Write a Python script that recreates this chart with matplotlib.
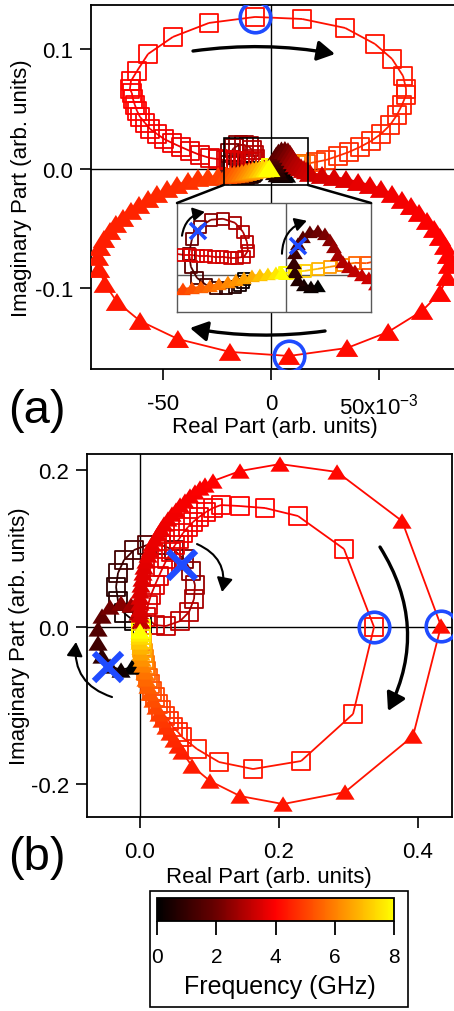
import numpy as np
import matplotlib
matplotlib.use("Agg")
import matplotlib.pyplot as plt
from matplotlib.collections import LineCollection
from matplotlib.colors import LinearSegmentedColormap, Normalize
from matplotlib.cm import ScalarMappable
from matplotlib.patches import Rectangle, ConnectionPatch
from matplotlib.path import Path

plt.rcParams['font.family'] = ['Liberation Sans', 'DejaVu Sans']
plt.rcParams['mathtext.fontset'] = 'custom'
plt.rcParams['mathtext.rm'] = 'Liberation Sans'
plt.rcParams['axes.unicode_minus'] = False

# ---------------- panel (a): squares ----------------
freq_a_sq = [0.0, 0.2, 0.4, 0.6, 0.8, 1.0, 1.2, 1.4, 1.6, 1.8, 2.0, 2.2, 2.4, 2.6, 2.8, 2.95, 3.05, 3.15, 3.22,
             3.28, 3.32, 3.36, 3.40, 3.44, 3.48, 3.52, 3.56,
             3.60, 3.64, 3.68, 3.72, 3.76, 3.80, 3.83, 3.86, 3.89, 3.92, 3.95, 3.97, 3.99, 4.01, 4.03,
             4.05, 4.07, 4.09, 4.12, 4.15, 4.18, 4.21, 4.24, 4.27, 4.30, 4.33, 4.36, 4.39,
             4.42, 4.45, 4.48, 4.51, 4.54, 4.57, 4.60, 4.64, 4.70, 4.80, 4.95, 5.20,
             5.6, 6.0, 6.4, 6.8, 7.2, 7.5, 7.8, 8.0]
re_a_sq = [-0.00844, -0.00864, -0.00925, -0.01025, -0.01206, -0.01407, -0.01608, -0.01789, -0.01910, -0.01950,
           -0.01889, -0.01729, -0.01508, -0.01266, -0.01025, -0.00864, -0.00784, -0.00764, -0.00844,
           -0.00985, -0.01126, -0.01286, -0.01447, -0.01608, -0.01769, -0.01930, -0.02070,
           -0.0245, -0.0282, -0.0329, -0.0375, -0.0417, -0.0458, -0.0495, -0.0528, -0.0560, -0.0583, -0.0606,
           -0.0620, -0.0630, -0.0639, -0.0644,
           -0.0653, -0.0648, -0.0620, -0.0569, -0.0454, -0.0287, -0.0074, 0.0144, 0.0343, 0.0481, 0.0560, 0.0611, 0.0625,
           0.0625, 0.0606, 0.0583, 0.0551, 0.0509, 0.0463, 0.0412, 0.0361, 0.0310, 0.0255, 0.0208, 0.0162,
           0.01387, 0.01146, 0.00884, 0.00643, 0.00382, 0.00181, 0.00020, -0.00020]
im_a_sq = [-0.00144, -0.00253, -0.00361, -0.00433, -0.00469, -0.00469, -0.00361, -0.00108, 0.00289, 0.00758,
           0.01300, 0.01733, 0.01986, 0.02022, 0.01877, 0.01552, 0.01191, 0.00866, 0.00650,
           0.00614, 0.00614, 0.00650, 0.00650, 0.00686, 0.00686, 0.00722, 0.00722,
           0.0082, 0.0092, 0.0117, 0.0151, 0.0184, 0.0218, 0.0251, 0.0293, 0.0335, 0.0385, 0.0435,
           0.0485, 0.0536, 0.0586, 0.0636,
           0.0669, 0.0736, 0.0820, 0.0962, 0.1105, 0.1222, 0.1272, 0.1255, 0.1180, 0.1046, 0.0921, 0.0778, 0.0669,
           0.0619, 0.0536, 0.0452, 0.0368, 0.0293, 0.0234, 0.0184, 0.0142, 0.0109, 0.0075, 0.0059, 0.0042,
           0.00433, 0.00361, 0.00289, 0.00217, 0.00144, 0.00108, 0.00072, 0.00070]

# ---------------- panel (a): triangles ----------------
freq_a_tri = [0.0, 0.2, 0.4, 0.6, 0.8, 1.0, 1.2, 1.4, 1.6, 1.8, 2.0, 2.2, 2.4, 2.6, 2.8, 2.95, 3.05, 3.15, 3.25, 3.32,
              3.38, 3.45, 3.52, 3.59, 3.66, 3.72, 3.77, 3.82, 3.86, 3.89, 3.92, 3.95, 3.97, 3.99, 4.01, 4.03,
              4.05, 4.07, 4.09, 4.12, 4.15, 4.18, 4.21, 4.24, 4.27, 4.30, 4.33, 4.36, 4.39,
              4.42, 4.44, 4.46, 4.48, 4.50, 4.52, 4.54, 4.56, 4.58, 4.61, 4.64, 4.68, 4.73, 4.80, 4.88, 4.98,
              5.1, 5.3, 5.5, 5.7, 5.9, 6.1, 6.3, 6.5, 6.7, 7.0, 7.3, 7.6, 8.0]
re_a_tri = [0.00643, 0.00503, 0.00362, 0.00241, 0.00181, 0.00161, 0.00181, 0.00241, 0.00342, 0.00482,
            0.00643, 0.00784, 0.00884, 0.00965, 0.01045, 0.01146, 0.01266, 0.01387, 0.01528, 0.01668,
            0.0181, 0.0236, 0.0292, 0.0347, 0.0403, 0.0458, 0.0509, 0.0560, 0.0606, 0.0648, 0.0685, 0.0722,
            0.0755, 0.0782, 0.0806, 0.0819,
            0.0824, 0.0815, 0.0782, 0.0699, 0.0542, 0.0352, 0.0083, -0.0190, -0.0431, -0.0606, -0.0713, -0.0769, -0.0796,
            -0.0801, -0.0792, -0.0773, -0.0745, -0.0718, -0.0685, -0.0648, -0.0611, -0.0569, -0.0528, -0.0481,
            -0.0435, -0.0384, -0.0338, -0.0292, -0.0245,
            -0.02070, -0.01889, -0.01709, -0.01528, -0.01347, -0.01166, -0.01005, -0.00844, -0.00683, -0.00523,
            -0.00362, -0.00201, -0.00080]
im_a_tri = [-0.00397, -0.00433, -0.00361, -0.00181, 0.00108, 0.00433, 0.00794, 0.01119, 0.01372, 0.01552,
            0.01588, 0.01480, 0.01264, 0.01011, 0.00722, 0.00469, 0.00289, 0.00144, 0.0, -0.00108,
            -0.0033, -0.0050, -0.0067, -0.0084, -0.0109, -0.0134, -0.0167, -0.0209, -0.0259, -0.0310, -0.0368,
            -0.0435, -0.0502, -0.0569, -0.0644, -0.0720,
            -0.0803, -0.0904, -0.1038, -0.1188, -0.1364, -0.1498, -0.1565, -0.1531, -0.1423, -0.1272, -0.1113,
            -0.0962, -0.0837,
            -0.0736, -0.0653, -0.0586, -0.0519, -0.0460, -0.0410, -0.0351, -0.0301, -0.0251, -0.0209, -0.0167,
            -0.0134, -0.0100, -0.0075, -0.0067, -0.0059,
            -0.00505, -0.00469, -0.00433, -0.00397, -0.00325, -0.00253, -0.00181, -0.00108, -0.00036, 0.0,
            0.00036, 0.00072, 0.00072]

# ---------------- panel (b): squares ----------------
freq_b_sq = [0.0, 0.2, 0.4, 0.6, 0.8, 1.0, 1.2, 1.4, 1.6, 1.8, 2.0, 2.2, 2.4, 2.6, 2.8, 3.0, 3.1, 3.2, 3.3, 3.4,
             3.50, 3.53, 3.56, 3.59, 3.62, 3.65, 3.68, 3.71, 3.74, 3.77, 3.80, 3.83, 3.86, 3.89, 3.92, 3.95,
             4.0, 4.04, 4.08, 4.13, 4.2, 4.26, 4.3, 4.34, 4.38, 4.42, 4.46,
             4.5, 4.58, 4.66, 4.75, 4.85, 4.95, 5.06, 5.18, 5.3, 5.45, 5.6, 5.8, 6.0, 6.25, 6.5, 6.8, 7.1, 7.4,
             7.7, 8.0]
re_b_sq = [0.0029, -0.0086, -0.0230, -0.0317, -0.0345, -0.0317, -0.0230, -0.0086, 0.0101, 0.0302,
           0.0489, 0.0633, 0.0734, 0.0791, 0.0777, 0.0705, 0.0576, 0.0374, 0.0216, 0.0086,
           0.0115, 0.0158, 0.0216, 0.0273, 0.0331, 0.0388, 0.0446, 0.0504, 0.0561, 0.0619, 0.0691, 0.0763,
           0.0849, 0.0950, 0.1050, 0.1165,
           0.1439, 0.1799, 0.2273, 0.2935, 0.3367, 0.3065, 0.2317, 0.1626, 0.1137, 0.0820, 0.0604,
           0.0547, 0.0475, 0.0417, 0.0360, 0.0302, 0.0259, 0.0216, 0.0173, 0.0144, 0.0115, 0.0086, 0.0072,
           0.0058, 0.0043, 0.0029, 0.0029, 0.0014, 0.0014, 0.0014, 0.0014]
im_b_sq = [0.0025, 0.0076, 0.0178, 0.0331, 0.0510, 0.0688, 0.0854, 0.0981, 0.1045, 0.1045,
           0.0981, 0.0866, 0.0713, 0.0535, 0.0357, 0.0191, 0.0076, 0.0013, 0.0025, 0.0127,
           0.0280, 0.0408, 0.0535, 0.0650, 0.0764, 0.0866, 0.0955, 0.1045, 0.1121, 0.1197, 0.1274, 0.1338,
           0.1401, 0.1465, 0.1516, 0.1554,
           0.1541, 0.1516, 0.1414, 0.0994, 0.0, -0.1108, -0.1707, -0.1809, -0.1720, -0.1554, -0.1401,
           -0.1338, -0.1274, -0.1197, -0.1134, -0.1057, -0.0981, -0.0892, -0.0815, -0.0726, -0.0650, -0.0561,
           -0.0484, -0.0408, -0.0331, -0.0268, -0.0204, -0.0153, -0.0102, -0.0064, -0.0025]

# ---------------- panel (b): triangles ----------------
freq_b_tri = [0.0, 0.3, 0.6, 0.9, 1.2, 1.5, 1.8, 2.1, 2.4, 2.7, 3.0, 3.2,
              3.46, 3.48, 3.50, 3.52, 3.54, 3.56, 3.58, 3.60, 3.62, 3.64, 3.66, 3.68, 3.70, 3.72, 3.74, 3.76,
              3.78, 3.80, 3.82, 3.84, 3.86, 3.88, 3.90, 3.92, 3.94, 3.96,
              4.0, 4.03, 4.06, 4.1, 4.15, 4.21, 4.27, 4.31, 4.34, 4.37, 4.4, 4.43, 4.46,
              4.52, 4.6, 4.68, 4.77, 4.86, 4.96, 5.07, 5.19, 5.32, 5.46, 5.62, 5.8, 6.0, 6.25, 6.5, 6.8, 7.1,
              7.4, 7.7, 8.0]
re_b_tri = [-0.0115, -0.0273, -0.0432, -0.0547, -0.0604, -0.0604, -0.0547, -0.0432, -0.0273, -0.0129, -0.0029, 0.0014,
            0.0, 0.0, 0.0, 0.0, 0.0, 0.0014, 0.0029, 0.0043, 0.0058, 0.0086, 0.0115, 0.0144, 0.0173, 0.0216,
            0.0259, 0.0302, 0.0345, 0.0403, 0.0460, 0.0518, 0.0576, 0.0647, 0.0719, 0.0791, 0.0863, 0.0935,
            0.1050, 0.1439, 0.2014, 0.2835, 0.3770, 0.4331, 0.3928, 0.2950, 0.2058, 0.1439, 0.1007, 0.0748, 0.0604,
            0.0547, 0.0489, 0.0432, 0.0374, 0.0317, 0.0273, 0.0230, 0.0187, 0.0144, 0.0115, 0.0086, 0.0072,
            0.0043, 0.0029, 0.0014, 0.0014, 0.0, 0.0, 0.0, 0.0]
im_b_tri = [-0.0510, -0.0548, -0.0497, -0.0369, -0.0204, -0.0025, 0.0140, 0.0255, 0.0306, 0.0280, 0.0178, 0.0076,
            0.0153, 0.0229, 0.0306, 0.0382, 0.0459, 0.0535, 0.0611, 0.0688, 0.0764, 0.0841, 0.0917, 0.0981,
            0.1057, 0.1121, 0.1185, 0.1248, 0.1312, 0.1376, 0.1439, 0.1490, 0.1554, 0.1605, 0.1669, 0.1720,
            0.1771, 0.1809,
            0.1860, 0.1987, 0.2076, 0.1975, 0.1350, 0.0013, -0.1389, -0.2102, -0.2255, -0.2153, -0.1962, -0.1771, -0.1592,
            -0.1516, -0.1439, -0.1350, -0.1274, -0.1185, -0.1108, -0.1019, -0.0930, -0.0841, -0.0752, -0.0662,
            -0.0573, -0.0484, -0.0408, -0.0331, -0.0255, -0.0191, -0.0127, -0.0089, -0.0051]

# marks of special modes (blue crosses) and zoom window of the inset
cross_a = ([-0.0177, 0.0024], [0.0159, 0.0105])
cross_b = ([0.0604, -0.0460], [0.0790, -0.0510])
zoom_x = (-0.0219, 0.0171)
zoom_y = (-0.0134, 0.0259)

W, H = 454, 1012
fig = plt.figure(figsize=(W / 100, H / 100), dpi=100)


def rect(l, t, r, b):
    return [l / W, 1 - b / H, (r - l) / W, (b - t) / H]


cmap = LinearSegmentedColormap.from_list(
    'freq', [(0, (0, 0, 0)), (0.25, (0.42, 0, 0)), (0.5, (1, 0, 0)), (0.75, (1, 0.5, 0)), (1, (1, 1, 0))])
norm = Normalize(0, 8)
blue = '#1f4bff'
tri = Path([(0, 0.8), (-1, -0.8), (1, -0.8), (0, 0.8)])


def draw_trace(ax, f, re, im, marker, size):
    f, re, im = np.asarray(f), np.asarray(re), np.asarray(im)
    pts = np.column_stack([re, im])
    segs = np.stack([pts[:-1], pts[1:]], axis=1)
    ax.add_collection(LineCollection(segs, colors=cmap(norm(0.5 * (f[:-1] + f[1:]))), linewidths=1.3, zorder=2))
    cols = cmap(norm(f))
    if marker == 's':
        ax.scatter(re, im, s=size, marker='s', facecolors='none', edgecolors=cols, linewidths=1.3, zorder=3)
    else:
        ax.scatter(re, im, s=size, marker=tri, c=cols, edgecolors='none', zorder=3)


def style(ax):
    for s in ax.spines.values():
        s.set_linewidth(1.3)
    ax.tick_params(direction='out', length=8, width=1.2, labelsize=16)
    ax.tick_params(axis='x', pad=9)
    ax.tick_params(axis='y', pad=5)
    ax.axhline(0, color='k', lw=1, zorder=1)
    ax.axvline(0, color='k', lw=1, zorder=1)


def arrow(ax, start, end, rad, lw=2.4, ms=15):
    ax.annotate('', xy=end, xytext=start, zorder=7, annotation_clip=False,
                arrowprops=dict(arrowstyle='-|>,head_length=0.7,head_width=0.4',
                                connectionstyle='arc3,rad=%s' % rad, lw=lw, color='k',
                                shrinkA=0, shrinkB=0, mutation_scale=ms))


# ---------------- panel (a) ----------------
ax_a = fig.add_axes(rect(91, 6, 456, 370))
style(ax_a)
draw_trace(ax_a, freq_a_sq, re_a_sq, im_a_sq, 's', 170)
draw_trace(ax_a, freq_a_tri, re_a_tri, im_a_tri, '^', 260)
i = int(np.argmax(im_a_sq))
ax_a.plot(re_a_sq[i], im_a_sq[i], 'o', ms=22, mfc='none', mec=blue, mew=2.6, zorder=6)
i = int(np.argmin(im_a_tri))
ax_a.plot(re_a_tri[i], im_a_tri[i], 'o', ms=22, mfc='none', mec=blue, mew=2.6, zorder=6)
ax_a.set_xlim(-0.0833, 0.0856)
ax_a.set_ylim(-0.1674, 0.1372)
ax_a.set_xticks([-0.05, 0, 0.05])
ax_a.set_xticklabels(['-50', '0', r'50x10$^{\mathregular{-3}}$'])
ax_a.set_yticks([-0.1, 0, 0.1])
ax_a.set_yticklabels(['-0.1', '0.0', '0.1'])
arrow(ax_a, (-0.0361, 0.0987), (0.0296, 0.0962), -0.08)
arrow(ax_a, (0.0250, -0.1356), (-0.0375, -0.1331), -0.08)
ax_a.add_patch(Rectangle((zoom_x[0], zoom_y[0]), zoom_x[1] - zoom_x[0], zoom_y[1] - zoom_y[0],
                         fill=False, ec='k', lw=1.2, zorder=5))

# inset
ax_in = fig.add_axes(rect(177, 204, 371, 313), zorder=5)
ax_in.set_xticks([])
ax_in.set_yticks([])
for s in ax_in.spines.values():
    s.set_color('0.35')
    s.set_linewidth(1)
ax_in.axhline(0, color='0.35', lw=1, zorder=1)
ax_in.axvline(0, color='0.35', lw=1, zorder=1)
draw_trace(ax_in, freq_a_sq, re_a_sq, im_a_sq, 's', 80)
draw_trace(ax_in, freq_a_tri, re_a_tri, im_a_tri, '^', 130)
ax_in.plot(cross_a[0], cross_a[1], 'x', ls='none', ms=11, mew=2.6, color=blue, zorder=6)
arrow(ax_in, (-0.0209, 0.0141), (-0.0163, 0.0227), -0.35, lw=1.5, ms=10)
arrow(ax_in, (-0.0008, 0.0076), (0.0042, 0.0195), -0.35, lw=1.5, ms=10)
ax_in.set_xlim(*zoom_x)
ax_in.set_ylim(*zoom_y)
for xa, xb in [((zoom_x[0], zoom_y[0]), (0, 1)), ((zoom_x[1], zoom_y[0]), (1, 1))]:
    fig.add_artist(ConnectionPatch(xyA=xa, coordsA=ax_a.transData, xyB=xb, coordsB=ax_in.transAxes,
                                   color='k', lw=1.8, zorder=6))

# ---------------- panel (b) ----------------
ax_b = fig.add_axes(rect(87, 455, 452, 818))
style(ax_b)
draw_trace(ax_b, freq_b_sq, re_b_sq, im_b_sq, 's', 175)
draw_trace(ax_b, freq_b_tri, re_b_tri, im_b_tri, '^', 190)
i = int(np.argmax(re_b_sq))
ax_b.plot(re_b_sq[i], im_b_sq[i], 'o', ms=22, mfc='none', mec=blue, mew=2.6, zorder=6)
i = int(np.argmax(re_b_tri))
ax_b.plot(re_b_tri[i], im_b_tri[i], 'o', ms=22, mfc='none', mec=blue, mew=2.6, zorder=6)
ax_b.plot(cross_b[0], cross_b[1], 'x', ls='none', ms=20, mew=4.5, color=blue, zorder=6)
arrow(ax_b, (0.3453, 0.1019), (0.3568, -0.1070), -0.28)
arrow(ax_b, (0.0820, 0.1057), (0.1180, 0.0446), -0.4, lw=1.5, ms=12)
arrow(ax_b, (-0.0403, -0.0892), (-0.0921, -0.0191), -0.4, lw=1.5, ms=12)
ax_b.set_xlim(-0.0763, 0.4489)
ax_b.set_ylim(-0.2420, 0.2204)
ax_b.set_xticks([0, 0.2, 0.4])
ax_b.set_xticklabels(['0.0', '0.2', '0.4'])
ax_b.set_yticks([-0.2, 0, 0.2])
ax_b.set_yticklabels(['-0.2', '0.0', '0.2'])

# ---------------- colour bar ----------------
cax = fig.add_axes(rect(157, 899, 394, 922))
cb = fig.colorbar(ScalarMappable(norm=norm, cmap=cmap), cax=cax, orientation='horizontal', ticks=[0, 2, 4, 6, 8])
cb.outline.set_linewidth(1.3)
cax.tick_params(direction='out', length=10, width=1.3, labelsize=15, pad=9)
fig.add_artist(Rectangle((150 / W, 1 - 1008 / H), 258 / W, 116 / H, transform=fig.transFigure,
                         fill=False, ec='k', lw=1.2))

# ---------------- labels ----------------
fig.text(275 / W, 1 - 428 / H, 'Real Part (arb. units)', ha='center', va='center', fontsize=16)
fig.text(269 / W, 1 - 878 / H, 'Real Part (arb. units)', ha='center', va='center', fontsize=16)
fig.text(22 / W, 1 - 188 / H, 'Imaginary Part (arb. units)', rotation=90, ha='center', va='center', fontsize=16)
fig.text(20 / W, 1 - 636 / H, 'Imaginary Part (arb. units)', rotation=90, ha='center', va='center', fontsize=16)
fig.text(37 / W, 1 - 411 / H, '(a)', ha='center', va='center', fontsize=34)
fig.text(37 / W, 1 - 858 / H, '(b)', ha='center', va='center', fontsize=34)
fig.text(280 / W, 1 - 987 / H, 'Frequency (GHz)', ha='center', va='center', fontsize=18)

fig.savefig('out.png', dpi=100)
